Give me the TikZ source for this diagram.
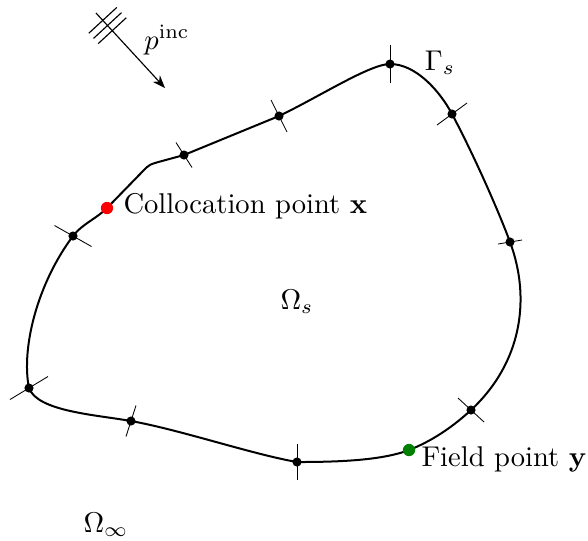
\documentclass[tikz,border=0pt]{standalone}
\usetikzlibrary{arrows.meta,calc}
\begin{document}
\begin{tikzpicture}[x=0.35pt,y=-0.35pt,
  bnd/.style={line width=0.7pt,line join=round},
  tickln/.style={line width=0.3pt},
  elpt/.style={circle,fill=black,inner sep=0pt,minimum size=3.2pt},
  spt/.style={circle,inner sep=0pt,minimum size=4.3pt},
  lbl/.style={inner sep=0pt}]
\useasboundingbox (0,0) rectangle (588,540);
% boundary nodes
\coordinate (A) at (390,64);
\coordinate (B) at (452,114);
\coordinate (C) at (510,242);
\coordinate (D) at (471,410);
\coordinate (E) at (297,462);
\coordinate (F) at (131,421);
\coordinate (G) at (29,388);
\coordinate (H) at (73,236);
\coordinate (I) at (184,155);
\coordinate (J) at (279,116);
\coordinate (X) at (107,208);
\coordinate (Y) at (409,450);
% boundary curve
\draw[bnd] (J) .. controls (319.5,96.6) and (370,64) .. (A)
  .. controls (416,64) and (439.8,91.1) .. (B)
  .. controls (470.8,149.2) and (496,204.5) .. (C)
  .. controls (530.9,298.2) and (522.1,362.4) .. (D)
  .. controls (453,426.7) and (431.9,441.1) .. (Y)
  .. controls (381.1,460.8) and (334.5,462) .. (E)
  .. controls (252.7,454.35) and (180.2,429.8) .. (F)
  .. controls (96.6,414.8) and (37.5,411.5) .. (G)
  .. controls (21,348.8) and (37,284) .. (H)
  .. controls (82,224) and (96.5,218.7) .. (X)
  -- (143,171) .. controls (149.3,164.5) .. (162,161) -- (I) -- cycle;
% element ticks
\draw[tickln] (A) ++(0,-19) -- ++(0,38);
\draw[tickln] (B) ++(-15,11) -- ++(30,-22);
\draw[tickln] (C) ++(-12,2) -- ++(24,-4);
\draw[tickln] (D) ++(-13,-12) -- ++(26,24);
\draw[tickln] (E) ++(0,-18) -- ++(0,36);
\draw[tickln] (F) ++(-5,15.5) -- ++(10,-31);
\draw[tickln] (G) ++(-19,11.5) -- ++(38,-23);
\draw[tickln] (H) ++(-18.5,-10.5) -- ++(37,21);
\draw[tickln] (I) ++(-8,-12.5) -- ++(16,25);
\draw[tickln] (J) ++(-8,-16) -- ++(16,32);
% points
\foreach \p in {A,B,C,D,E,F,G,H,I,J} \node[elpt] (d\p) at (\p) {};
\node[spt,fill=red] (xp) at (X) {};
\node[spt,fill=black!50!green] (yp) at (Y) {};
% incident wave
\coordinate (w0) at (96,13);
\coordinate (w1) at (165,88);
\draw[line width=0.4pt,-{Stealth[length=4.5pt,width=3.4pt]}] (w0) -- (w1);
\foreach \t in {10,17,24}
  \draw[line width=0.4pt] ($(w0)+(0.677*\t,0.736*\t)+(-14,12.9)$) -- ++(28,-25.8);
% labels
\node[lbl] (pinc) at (167,40) {$p^{\mathrm{inc}}$};
\node[lbl] (gam) at (440,63) {$\Gamma_s$};
\node[lbl] (oms) at (297,302) {$\Omega_s$};
\node[lbl] (omi) at (106,525) {$\Omega_\infty$};
\node[lbl,anchor=base west] (xl) at (123,213) {Collocation point $\mathbf{x}$};
\node[lbl,anchor=base west] (yl) at (421,466) {Field point $\mathbf{y}$};
\end{tikzpicture}
\end{document}
